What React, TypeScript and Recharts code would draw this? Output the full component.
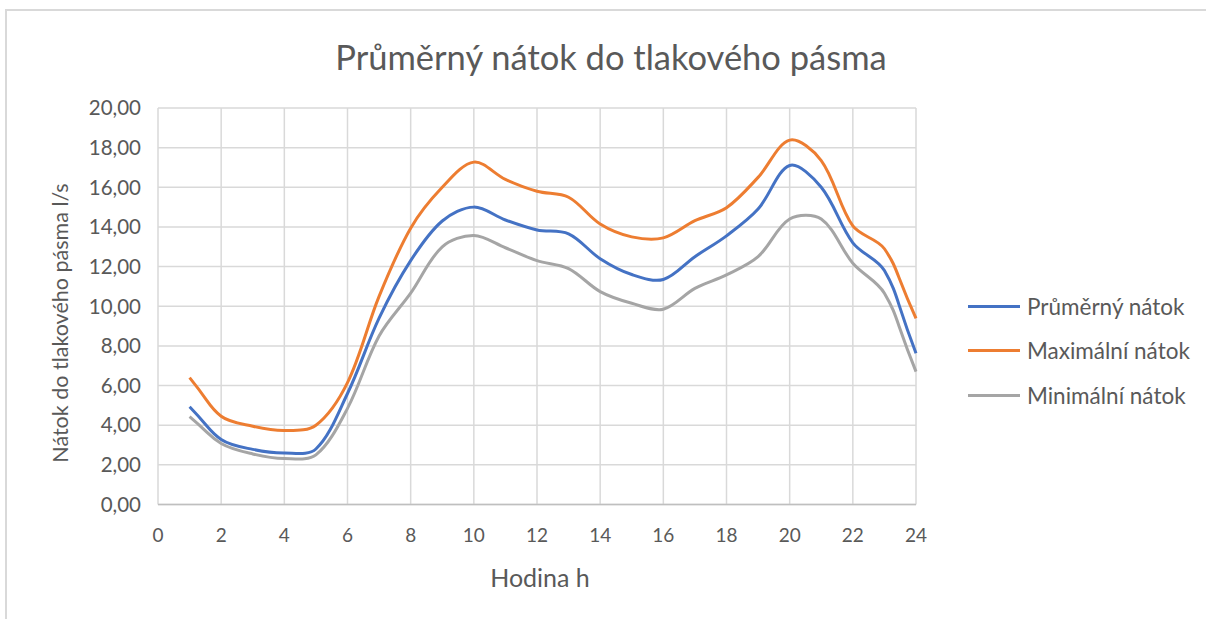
import React from "react";
import {
  LineChart,
  Line,
  XAxis,
  YAxis,
  CartesianGrid,
  Legend,
  Label,
} from "recharts";

const hours = [1, 2, 3, 4, 5, 6, 7, 8, 9, 10, 11, 12, 13, 14, 15, 16, 17, 18, 19, 20, 21, 22, 23, 24];
const avgFlow = [4.93, 3.28, 2.78, 2.6, 2.8, 5.6, 9.4, 12.3, 14.3, 15.0, 14.35, 13.85, 13.65, 12.4, 11.6, 11.35, 12.5, 13.55, 14.9, 17.1, 16.0, 13.2, 11.8, 7.63];
const maxFlow = [6.4, 4.45, 3.95, 3.73, 4.0, 6.15, 10.5, 13.94, 16.0, 17.27, 16.4, 15.8, 15.5, 14.15, 13.5, 13.45, 14.32, 14.97, 16.5, 18.38, 17.35, 14.05, 12.9, 9.39];
const minFlow = [4.43, 3.08, 2.55, 2.32, 2.5, 4.85, 8.5, 10.66, 13.0, 13.57, 12.95, 12.3, 11.9, 10.74, 10.15, 9.85, 10.9, 11.58, 12.5, 14.4, 14.4, 12.17, 10.66, 6.7];
const xTicks = [0, 2, 4, 6, 8, 10, 12, 14, 16, 18, 20, 22, 24];
const yTicks = [0, 2, 4, 6, 8, 10, 12, 14, 16, 18, 20];

const seriesNames = ["Průměrný nátok", "Maximální nátok", "Minimální nátok"];
const seriesKeys = ["avg", "max", "min"];
const seriesColors = ["#4472C4", "#ED7D31", "#A5A5A5"];

const data = hours.map((h, i) => ({
  hour: h,
  avg: avgFlow[i],
  max: maxFlow[i],
  min: minFlow[i],
}));

const FONT = "Lato, 'Open Sans', sans-serif";
const TEXT = "#595959";

const dist = (a: number[], b: number[]) => Math.hypot(b[0] - a[0], b[1] - a[1]);

// Excel-like smoothed line (length-weighted Catmull-Rom through the points)
const excelCurve: any = (ctx: any) => {
  let pts: number[][] = [];
  return {
    areaStart() {},
    areaEnd() {},
    lineStart() {
      pts = [];
    },
    point(x: number, y: number) {
      pts.push([+x, +y]);
    },
    lineEnd() {
      const n = pts.length;
      if (!n) return;
      ctx.moveTo(pts[0][0], pts[0][1]);
      for (let i = 0; i < n - 1; i++) {
        const p0 = pts[i - 1] || pts[i];
        const p1 = pts[i];
        const p2 = pts[i + 1];
        const p3 = pts[i + 2] || pts[i + 1];
        const d01 = dist(p0, p1);
        const d12 = dist(p1, p2);
        const d23 = dist(p2, p3);
        const a = d01 + d12 > 0 ? d12 / (d01 + d12) / 3 * (pts[i - 1] ? 1 : 2) : 0;
        const b = d12 + d23 > 0 ? d12 / (d12 + d23) / 3 * (pts[i + 2] ? 1 : 2) : 0;
        ctx.bezierCurveTo(
          p1[0] + (p2[0] - p0[0]) * a,
          p1[1] + (p2[1] - p0[1]) * a,
          p2[0] - (p3[0] - p1[0]) * b,
          p2[1] - (p3[1] - p1[1]) * b,
          p2[0],
          p2[1]
        );
      }
    },
  };
};

const fmt = (v: number) => v.toFixed(2).replace(".", ",");

const LegendContent = () => (
  <div style={{ fontFamily: FONT, fontSize: 22.5, color: TEXT }}>
    {seriesNames.map((name, i) => (
      <div
        key={name}
        style={{ display: "flex", alignItems: "center", height: 44.5 }}
      >
        <span
          style={{
            display: "inline-block",
            width: 52,
            height: 3,
            background: seriesColors[i],
            marginRight: 7,
          }}
        />
        <span>{name}</span>
      </div>
    ))}
  </div>
);

const YTitle = () => (
  <text
    x={60}
    y={323}
    transform="rotate(-90 60 323)"
    textAnchor="middle"
    dominantBaseline="central"
    fill={TEXT}
    fontSize={21.5}
    fontFamily={FONT}
  >
    Nátok do tlakového pásma l/s
  </text>
);

const XTitle = () => (
  <text
    x={540}
    y={577}
    textAnchor="middle"
    dominantBaseline="central"
    fill={TEXT}
    fontSize={25}
    fontFamily={FONT}
  >
    Hodina h
  </text>
);

export default function App() {
  return (
    <div
      style={{
        position: "absolute",
        left: 0,
        top: 0,
        width: 1206,
        height: 619,
        background: "#fff",
        overflow: "hidden",
      }}
    >
      <div
        style={{
          position: "absolute",
          left: 5,
          top: 9,
          right: 0,
          bottom: 0,
          borderTop: "2px solid #d9d9d9",
          borderLeft: "2px solid #d9d9d9",
        }}
      />
      <div
        style={{
          position: "absolute",
          left: 0,
          top: 35,
          width: 1222,
          textAlign: "center",
          fontFamily: FONT,
          fontSize: 34.5,
          lineHeight: "44px",
          color: TEXT,
        }}
      >
        Průměrný nátok do tlakového pásma
      </div>
      <div style={{ position: "absolute", left: 0, top: 0 }}>
        <LineChart
          width={1206}
          height={619}
          data={data}
          margin={{ top: 108, right: 52, bottom: 54.5, left: 58 }}
        >
          <CartesianGrid stroke="#d9d9d9" strokeWidth={1.5} />
          <XAxis
            dataKey="hour"
            type="number"
            domain={[0, 24]}
            ticks={xTicks}
            interval={0}
            height={60}
            tickLine={false}
            tickSize={0}
            tickMargin={24}
            axisLine={{ stroke: "#bfbfbf", strokeWidth: 1.5 }}
            tick={{ fill: TEXT, fontSize: 19, fontFamily: FONT }}
          >
            <Label content={<XTitle />} />
          </XAxis>
          <YAxis
            type="number"
            domain={[0, 20]}
            ticks={yTicks}
            interval={0}
            width={100}
            tickLine={false}
            tickSize={0}
            tickMargin={17}
            axisLine={false}
            tickFormatter={fmt}
            tick={{ fill: TEXT, fontSize: 20.5, fontFamily: FONT }}
          >
            <Label content={<YTitle />} />
          </YAxis>
          <Legend
            layout="vertical"
            align="right"
            verticalAlign="top"
            content={<LegendContent />}
            wrapperStyle={{ left: 968, top: 284, width: 238 }}
          />
          {seriesKeys.map((k, i) => (
            <Line
              key={k}
              dataKey={k}
              name={seriesNames[i]}
              type={excelCurve}
              stroke={seriesColors[i]}
              strokeWidth={3}
              dot={false}
              activeDot={false}
              isAnimationActive={false}
            />
          ))}
        </LineChart>
      </div>
    </div>
  );
}
